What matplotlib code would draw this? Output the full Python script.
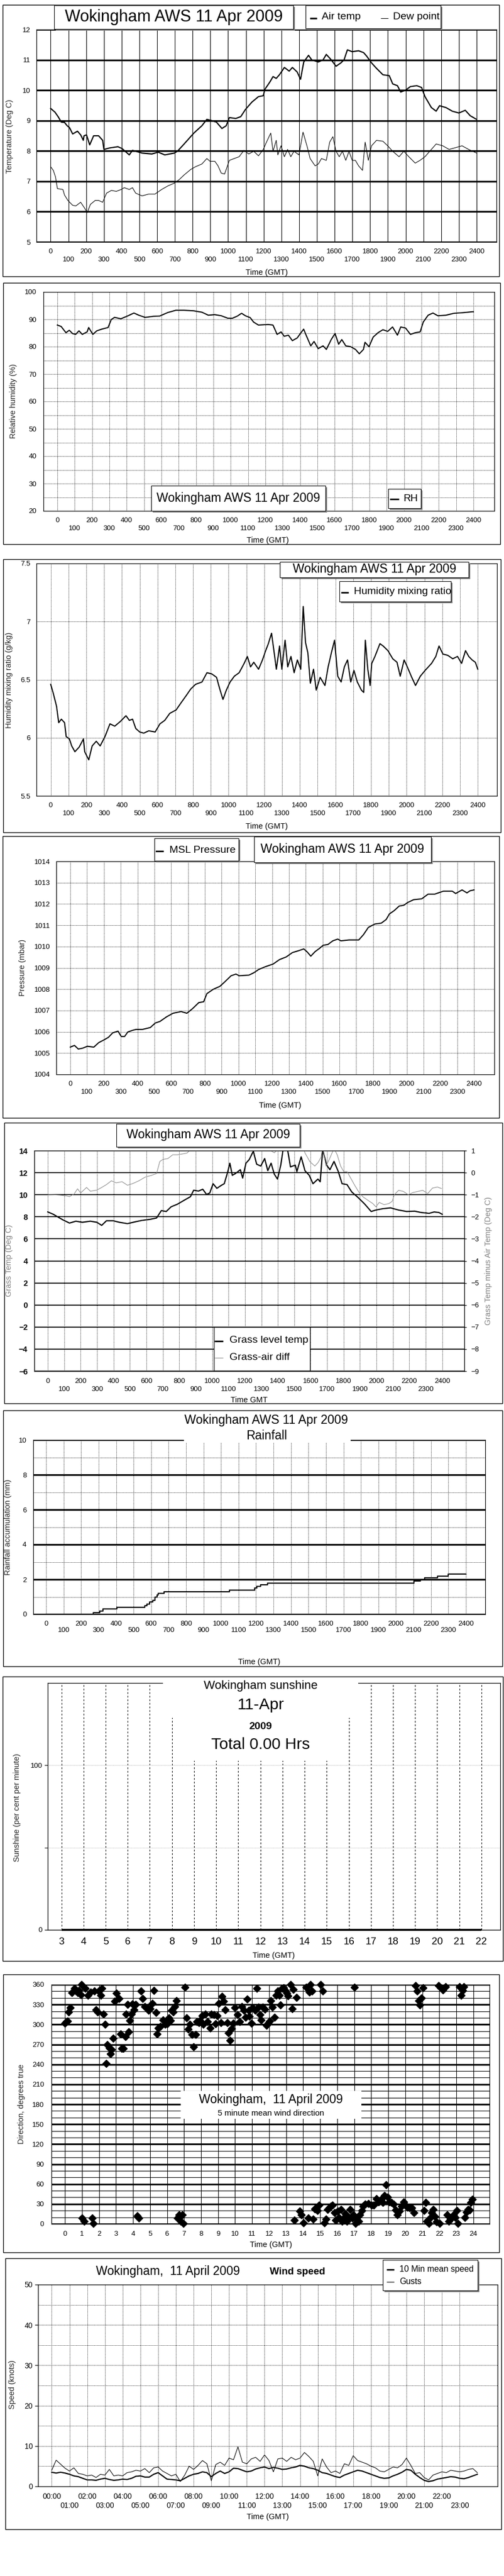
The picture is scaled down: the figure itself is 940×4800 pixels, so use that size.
import numpy as np
import matplotlib
matplotlib.use('Agg')
import matplotlib.pyplot as plt
from matplotlib.patches import Rectangle
from matplotlib.lines import Line2D

plt.rcParams['font.family'] = ['Liberation Sans', 'DejaVu Sans']
plt.rcParams['font.size'] = 9.5

# ---------------- data (time axis 0..2400 = hhmm-style, 100 per hour) ----------------
temp_t = [0, 24, 42, 60, 78, 93, 106, 124, 151, 169,
          184, 188, 202, 220, 242, 270, 293, 300, 333, 379,
          402, 443, 461, 515, 570, 606, 643, 697, 716, 752,
          807, 852, 880, 907, 934, 965, 989, 1007, 1043, 1071,
          1098, 1134, 1171, 1198, 1207, 1235, 1253, 1271, 1289, 1317,
          1344, 1362, 1389, 1408, 1426, 1453, 1471, 1508, 1535, 1553,
          1581, 1608, 1635, 1653, 1672, 1699, 1735, 1763, 1781, 1808,
          1836, 1872, 1908, 1927, 1954, 1972, 1999, 2027, 2063, 2090,
          2109, 2145, 2172, 2191, 2227, 2263, 2300, 2336, 2364, 2400]
air_temp = [9.40, 9.28, 9.13, 8.95, 8.94, 8.83, 8.77, 8.56, 8.65, 8.53,
            8.35, 8.50, 8.53, 8.20, 8.50, 8.50, 8.35, 8.05, 8.10, 8.14,
            8.08, 7.87, 8.02, 7.93, 7.90, 7.96, 7.87, 7.93, 8.00, 8.23,
            8.59, 8.83, 9.04, 9.00, 8.95, 8.74, 8.83, 9.10, 9.07, 9.13,
            9.37, 9.61, 9.79, 9.82, 10.03, 10.27, 10.45, 10.39, 10.51, 10.75,
            10.63, 10.75, 10.60, 10.36, 10.93, 11.15, 11.00, 10.93, 11.00, 11.18,
            11.00, 10.79, 10.90, 11.00, 11.33, 11.27, 11.30, 11.24, 11.12, 10.90,
            10.72, 10.51, 10.48, 10.21, 10.15, 9.94, 10.00, 10.12, 10.15, 10.09,
            9.79, 9.43, 9.31, 9.49, 9.43, 9.31, 9.25, 9.34, 9.16, 9.04]

dew_t = [0, 15, 27, 38, 69, 78, 97, 124, 142, 169,
         191, 206, 224, 251, 270, 293, 315, 342, 370, 397,
         415, 443, 461, 479, 515, 552, 588, 625, 661, 697,
         725, 752, 789, 816, 852, 880, 898, 925, 943, 961,
         980, 1007, 1034, 1062, 1089, 1116, 1144, 1171, 1198, 1216,
         1240, 1253, 1271, 1280, 1298, 1317, 1335, 1353, 1371, 1399,
         1422, 1444, 1462, 1490, 1508, 1526, 1553, 1572, 1590, 1608,
         1626, 1644, 1663, 1681, 1699, 1717, 1735, 1757, 1772, 1790,
         1808, 1836, 1872, 1899, 1927, 1963, 1990, 2018, 2054, 2081,
         2109, 2136, 2172, 2209, 2245, 2282, 2318, 2355, 2400]
dew_point = [7.48, 7.36, 7.15, 6.76, 6.73, 6.55, 6.37, 6.21, 6.19, 6.31,
             6.12, 5.97, 6.24, 6.37, 6.37, 6.31, 6.61, 6.70, 6.67, 6.73,
             6.79, 6.73, 6.79, 6.61, 6.52, 6.58, 6.58, 6.73, 6.85, 6.94,
             7.06, 7.21, 7.39, 7.48, 7.57, 7.75, 7.66, 7.66, 7.51, 7.27,
             7.24, 7.69, 7.75, 7.81, 8.02, 7.90, 7.99, 7.84, 8.05, 8.29,
             8.59, 7.99, 8.35, 7.87, 8.17, 7.81, 8.05, 7.81, 7.99, 7.87,
             8.62, 8.17, 7.75, 7.51, 7.57, 7.75, 7.69, 8.29, 8.47, 7.99,
             7.81, 7.99, 7.69, 7.99, 7.69, 7.69, 7.51, 7.36, 8.29, 7.69,
             8.17, 8.35, 8.32, 8.17, 7.99, 7.81, 7.99, 7.81, 7.60, 7.69,
             7.81, 7.99, 8.23, 8.17, 8.05, 8.11, 8.17, 8.05, 7.93]

rh_t = [0, 22, 50, 69, 88, 106, 125, 144, 172, 181,
        205, 228, 256, 293, 311, 330, 367, 405, 442, 470,
        507, 554, 591, 638, 684, 731, 787, 834, 871, 908,
        946, 983, 1011, 1039, 1063, 1085, 1113, 1132, 1160, 1188,
        1216, 1244, 1268, 1291, 1309, 1333, 1356, 1384, 1402, 1421,
        1440, 1462, 1481, 1505, 1533, 1552, 1580, 1602, 1623, 1641,
        1664, 1692, 1720, 1742, 1766, 1775, 1798, 1822, 1850, 1878,
        1906, 1934, 1962, 1981, 2009, 2037, 2065, 2093, 2111, 2139,
        2167, 2195, 2242, 2288, 2335, 2400]
rel_hum = [87.9, 87.4, 85.1, 86.0, 84.8, 84.5, 85.8, 84.5, 85.4, 87.0,
           84.5, 85.8, 86.4, 87.0, 89.9, 90.7, 90.2, 91.2, 92.3, 91.5,
           90.7, 91.1, 91.2, 92.5, 93.3, 93.3, 93.1, 92.6, 91.5, 91.7,
           91.3, 90.4, 90.4, 91.2, 92.2, 91.3, 90.6, 89.0, 87.9, 88.0,
           88.1, 87.9, 84.5, 85.4, 83.8, 84.2, 82.2, 83.2, 84.8, 86.4,
           83.5, 80.3, 81.9, 79.3, 80.3, 79.0, 82.6, 84.8, 80.9, 82.6,
           80.3, 80.0, 79.0, 77.4, 79.0, 81.6, 80.0, 83.5, 85.1, 86.2,
           85.6, 87.2, 84.2, 87.2, 86.8, 84.5, 85.1, 85.4, 89.0, 91.5,
           92.3, 91.3, 91.5, 92.2, 92.4, 92.8]

mr_t = [0, 15, 33, 45, 60, 78, 87, 105, 118, 136,
        160, 184, 191, 214, 233, 256, 278, 305, 333, 360,
        391, 423, 442, 460, 478, 500, 523, 551, 587, 614,
        641, 669, 705, 732, 760, 787, 814, 850, 878, 905,
        932, 950, 968, 987, 1008, 1032, 1059, 1087, 1105, 1123,
        1141, 1168, 1190, 1208, 1223, 1241, 1256, 1268, 1286, 1299,
        1317, 1332, 1350, 1368, 1386, 1405, 1419, 1432, 1445, 1459,
        1477, 1492, 1514, 1541, 1559, 1577, 1595, 1613, 1632, 1650,
        1668, 1686, 1704, 1723, 1746, 1759, 1768, 1782, 1795, 1804,
        1822, 1850, 1868, 1895, 1922, 1946, 1964, 1986, 2004, 2026,
        2050, 2077, 2104, 2140, 2164, 2182, 2204, 2231, 2259, 2286,
        2309, 2331, 2349, 2368, 2386, 2400]
mix_ratio = [6.46, 6.38, 6.27, 6.13, 6.16, 6.13, 6.01, 5.99, 5.93, 5.88,
             5.92, 5.99, 5.88, 5.81, 5.93, 5.97, 5.93, 6.01, 6.12, 6.10,
             6.14, 6.19, 6.15, 6.16, 6.08, 6.05, 6.04, 6.06, 6.05, 6.12,
             6.15, 6.21, 6.24, 6.30, 6.36, 6.42, 6.46, 6.48, 6.56, 6.55,
             6.52, 6.42, 6.33, 6.41, 6.48, 6.53, 6.56, 6.64, 6.70, 6.61,
             6.65, 6.59, 6.67, 6.75, 6.81, 6.90, 6.73, 6.59, 6.79, 6.59,
             6.84, 6.61, 6.70, 6.56, 6.67, 6.59, 7.13, 6.82, 6.73, 6.47,
             6.59, 6.41, 6.52, 6.45, 6.61, 6.73, 6.84, 6.53, 6.48, 6.61,
             6.67, 6.48, 6.58, 6.48, 6.41, 6.39, 6.84, 6.59, 6.45, 6.64,
             6.70, 6.81, 6.79, 6.75, 6.68, 6.65, 6.53, 6.67, 6.61, 6.53,
             6.45, 6.53, 6.58, 6.64, 6.70, 6.79, 6.72, 6.71, 6.68, 6.70,
             6.64, 6.75, 6.70, 6.67, 6.65, 6.59]

pr_t = [0, 25, 48, 73, 102, 140, 169, 198, 227, 252,
        284, 303, 323, 342, 371, 390, 428, 476, 505, 534,
        572, 611, 659, 693, 726, 764, 793, 812, 851, 889,
        918, 956, 985, 1004, 1062, 1091, 1119, 1158, 1206, 1244,
        1283, 1321, 1359, 1388, 1407, 1430, 1455, 1484, 1503, 1532,
        1561, 1590, 1609, 1657, 1715, 1743, 1772, 1811, 1849, 1878,
        1897, 1926, 1955, 1983, 2006, 2041, 2089, 2127, 2166, 2218,
        2271, 2291, 2329, 2358, 2377, 2400]
msl_pres = [1005.28, 1005.36, 1005.19, 1005.23, 1005.32, 1005.28, 1005.49, 1005.61, 1005.74, 1005.95,
            1006.03, 1005.78, 1005.78, 1005.99, 1006.07, 1006.11, 1006.11, 1006.20, 1006.41, 1006.49,
            1006.70, 1006.87, 1006.95, 1006.87, 1007.08, 1007.37, 1007.41, 1007.79, 1008.00, 1008.13,
            1008.34, 1008.63, 1008.71, 1008.63, 1008.66, 1008.77, 1008.92, 1009.05, 1009.18, 1009.39,
            1009.51, 1009.72, 1009.81, 1009.89, 1009.76, 1009.55, 1009.76, 1009.93, 1010.06, 1010.10,
            1010.27, 1010.35, 1010.27, 1010.31, 1010.31, 1010.56, 1010.90, 1011.06, 1011.10, 1011.27,
            1011.53, 1011.69, 1011.90, 1011.94, 1012.07, 1012.20, 1012.24, 1012.46, 1012.46, 1012.60,
            1012.60, 1012.49, 1012.66, 1012.52, 1012.62, 1012.66]

gr_t = [0, 33, 63, 92, 132, 171, 210, 259, 299, 328,
        357, 397, 436, 485, 534, 573, 623, 662, 691, 721,
        750, 790, 829, 868, 888, 917, 943, 966, 986, 1006,
        1029, 1055, 1074, 1094, 1108, 1123, 1143, 1172, 1186, 1206,
        1226, 1251, 1271, 1296, 1320, 1339, 1359, 1379, 1398, 1418,
        1434, 1457, 1477, 1506, 1516, 1542, 1565, 1591, 1614, 1644,
        1658, 1673, 1697, 1717, 1742, 1768, 1791, 1821, 1850, 1889,
        1929, 1968, 1997, 2037, 2086, 2135, 2184, 2233, 2272, 2321,
        2351, 2380, 2400]
grass_temp = [8.44, 8.23, 7.97, 7.72, 7.43, 7.60, 7.50, 7.60, 7.50, 7.22,
              7.64, 7.64, 7.50, 7.38, 7.55, 7.67, 7.77, 7.89, 8.56, 8.48,
              8.90, 9.15, 9.49, 9.82, 10.41, 10.33, 10.50, 10.03, 10.16, 11.00,
              10.58, 10.84, 11.00, 12.01, 12.86, 11.76, 11.93, 12.27, 11.51, 12.86,
              13.19, 13.95, 12.77, 12.60, 13.28, 12.18, 12.86, 11.85, 11.42, 12.69,
              14.30, 14.30, 12.52, 12.69, 12.10, 13.44, 12.18, 11.76, 11.00, 11.42,
              11.17, 14.10, 12.69, 12.27, 13.02, 12.10, 11.00, 10.92, 10.25, 9.74,
              9.15, 8.48, 8.61, 8.73, 8.81, 8.61, 8.48, 8.51, 8.39, 8.31,
              8.44, 8.39, 8.23]

df_t = [0, 33, 73, 112, 132, 161, 181, 200, 236, 259,
        299, 328, 357, 387, 416, 452, 485, 515, 554, 593,
        632, 662, 682, 701, 731, 760, 790, 819, 848, 868,
        927, 1084, 1241, 1379, 1398, 1438, 1546, 1565, 1595, 1625,
        1644, 1663, 1673, 1693, 1713, 1742, 1762, 1782, 1801, 1821,
        1840, 1870, 1899, 1919, 1948, 1978, 1997, 2017, 2047, 2076,
        2096, 2109, 2135, 2164, 2194, 2223, 2253, 2282, 2312, 2341,
        2371, 2396]
grass_air_diff = [-0.99, -1.00, -1.02, -1.05, -1.09, -0.96, -0.73, -0.92, -0.67, -0.84,
                  -0.79, -0.67, -0.54, -0.37, -0.46, -0.41, -0.57, -0.50, -0.37, -0.20,
                  -0.12, -0.04, 0.51, 0.60, 0.64, 0.81, 0.81, 0.85, 0.89, 1.05,
                  1.40, 1.60, 1.50, 0.90, 1.05, 1.40, 1.30, 0.90, 0.50, 0.30,
                  0.45, 0.70, 1.20, 0.30, 0.60, 1.10, 0.80, 0.30, 0.05, 0.05,
                  -0.20, -0.60, -0.95, -1.10, -1.25, -1.40, -1.55, -1.35, -1.45, -1.40,
                  -1.30, -1.00, -0.80, -0.85, -1.00, -0.90, -0.85, -0.80, -0.95, -0.70,
                  -0.65, -0.72]

rain_t = [0, 268, 305, 324, 405, 564, 577, 590, 609, 623, 635, 642, 673,
          1049, 1192, 1206, 1225, 1267, 2103, 2140, 2165, 2237, 2298, 2400]
rain_mm = [0, 0.1, 0.2, 0.3, 0.4, 0.5, 0.6, 0.7, 0.8, 1.0, 1.1, 1.2, 1.3,
           1.4, 1.5, 1.6, 1.7, 1.8, 1.9, 2.0, 2.1, 2.2, 2.3, 2.3]

sun_hour = [3, 22]
sun_pct = [0, 0]

wd_hour = [0.00, 0.08, 0.17, 0.23, 0.32, 0.40, 0.55, 0.65, 0.74, 0.83,
           0.93, 0.99, 1.02, 1.12, 1.21, 1.35, 1.50, 1.59, 1.67, 1.73,
           1.84, 1.92, 1.97, 2.11, 2.16, 2.26, 2.35, 2.41, 2.49, 2.60,
           2.68, 2.74, 2.83, 2.92, 3.02, 3.17, 3.26, 3.33, 3.43, 3.55,
           3.59, 3.68, 3.74, 3.81, 3.91, 3.97, 4.06, 4.16, 4.25, 4.35,
           4.48, 4.57, 4.69, 4.82, 4.91, 5.01, 5.14, 5.24, 5.35, 5.41,
           5.48, 5.62, 5.77, 5.90, 6.02, 6.11, 6.20, 6.28, 6.37, 6.45,
           6.55, 6.62, 6.72, 6.81, 6.91, 6.96, 7.06, 7.15, 7.23, 7.34,
           7.48, 7.57, 7.67, 7.76, 7.86, 7.95, 8.05, 8.14, 8.24, 8.37,
           8.52, 8.61, 8.75, 8.84, 8.94, 9.03, 9.15, 9.24, 9.33, 9.43,
           9.53, 9.62, 9.70, 9.81, 9.89, 9.98, 10.13, 10.27, 10.38, 10.51,
           10.61, 10.70, 10.80, 10.85, 10.95, 11.04, 11.18, 11.27, 11.37, 11.46,
           11.52, 11.61, 11.75, 11.84, 11.94, 12.03, 12.09, 12.18, 12.31, 12.41,
           12.50, 12.60, 12.66, 12.75, 12.85, 12.94, 13.04, 13.11, 13.26, 13.36,
           13.42, 13.49, 13.61, 13.80, 13.89, 14.02, 14.17, 14.31, 14.36, 14.44,
           14.52, 14.59, 14.69, 14.84, 14.93, 15.03, 15.16, 15.26, 15.35, 15.45,
           15.54, 15.64, 15.73, 15.83, 15.92, 16.02, 16.11, 16.21, 16.30, 16.39,
           16.49, 16.58, 16.68, 16.77, 16.87, 16.96, 17.02, 17.06, 17.15, 17.25,
           17.34, 17.44, 17.53, 17.63, 17.82, 18.01, 18.16, 18.29, 18.42, 18.58,
           18.67, 18.77, 18.86, 18.96, 19.05, 19.18, 19.30, 19.43, 19.53, 19.66,
           19.77, 19.91, 20.00, 20.13, 20.25, 20.38, 20.51, 20.61, 20.70, 20.80,
           20.85, 20.95, 21.04, 21.10, 21.20, 21.27, 21.38, 21.46, 21.56, 21.65,
           21.75, 21.84, 21.95, 22.03, 22.09, 22.22, 22.37, 22.47, 22.56, 22.66,
           22.75, 22.85, 22.94, 23.04, 23.09, 23.17, 23.28, 23.36, 23.45, 23.51,
           23.61, 23.70, 23.80, 23.85, 23.95]
wd_deg = [302, 304, 305, 319, 325, 348, 354, 350, 348, 351,
          345, 360, 9, 4, 354, 344, 349, 9, 1, 350,
          322, 319, 350, 344, 354, 316, 300, 241, 270, 265,
          256, 262, 279, 335, 347, 339, 286, 264, 264, 282,
          316, 330, 289, 306, 316, 331, 322, 330, 12, 9,
          350, 339, 327, 325, 321, 324, 332, 351, 318, 286,
          295, 297, 307, 300, 301, 310, 306, 321, 319, 327,
          336, 9, 14, 4, 14, 1, 356, 310, 293, 300,
          285, 266, 285, 304, 303, 306, 313, 300, 316, 304,
          295, 316, 315, 301, 313, 332, 303, 342, 335, 322,
          303, 287, 276, 294, 302, 325, 315, 304, 327, 321,
          311, 338, 321, 312, 302, 325, 321, 354, 326, 315,
          307, 326, 323, 299, 302, 305, 336, 326, 311, 344,
          350, 344, 329, 354, 355, 351, 347, 343, 360, 324,
          353, 6, 341, 19, 14, 2, 356, 9, 349, 360,
          350, 7, 23, 20, 28, 360, 350, 2, 7, 22,
          24, 27, 28, 17, 6, 19, 10, 22, 4, 9,
          15, 4, 10, 22, 9, 14, 356, 1, 7, 4,
          14, 20, 27, 30, 31, 28, 28, 38, 33, 37,
          32, 43, 59, 40, 33, 32, 30, 21, 14, 19,
          27, 33, 28, 25, 24, 24, 17, 358, 350, 336,
          329, 340, 355, 20, 32, 4, 1, 9, 17, 22,
          11, 3, 358, 1, 355, 352, 357, 14, 4, 7,
          10, 14, 10, 20, 1, 357, 344, 351, 357, 10,
          18, 22, 21, 32, 37]

ws_hour = np.arange(97) * 0.25
ws_mean = [3.5, 3.3, 3.5, 3.3, 3.0, 2.6, 2.4, 2.0, 1.6, 1.6,
           1.5, 1.8, 2.0, 1.7, 1.5, 1.6, 1.8, 1.7, 2.0, 2.5,
           2.6, 2.3, 2.3, 3.0, 3.4, 2.6, 1.8, 1.7, 1.6, 1.4,
           2.0, 2.6, 3.0, 3.2, 3.6, 3.4, 2.4, 3.2, 3.8, 3.2,
           3.6, 4.5, 4.4, 4.0, 3.6, 3.8, 4.3, 4.6, 4.8, 4.4,
           4.7, 4.5, 4.2, 4.3, 4.6, 4.8, 5.2, 5.0, 4.6, 4.4,
           4.0, 3.4, 3.2, 2.8, 2.4, 2.2, 2.8, 3.2, 3.6, 4.0,
           3.8, 3.4, 3.0, 2.6, 2.2, 2.0, 2.1, 2.6, 3.0, 3.5,
           4.2, 4.0, 3.0, 2.2, 1.5, 1.2, 1.4, 1.8, 2.0, 2.2,
           2.4, 2.3, 2.0, 1.9, 2.2, 2.6, 3.0]
ws_gust = [4.0, 6.5, 5.5, 4.5, 3.8, 4.6, 3.2, 3.0, 2.6, 2.8,
           2.2, 3.0, 2.8, 4.2, 2.6, 2.8, 2.6, 3.4, 3.6, 4.0,
           3.8, 4.4, 3.4, 4.6, 4.8, 3.8, 3.2, 2.6, 3.0, 1.2,
           2.8, 5.0, 4.2, 5.2, 6.4, 5.6, 1.4, 5.4, 6.0, 5.2,
           7.0, 6.6, 9.8, 6.0, 5.6, 6.8, 7.2, 6.2, 7.8, 6.4,
           3.6, 6.8, 7.0, 6.2, 7.2, 6.6, 7.0, 8.4, 7.4, 6.2,
           2.6, 6.8, 4.8, 3.4, 3.8, 3.2, 5.6, 5.2, 7.6, 6.4,
           6.0, 5.6, 5.0, 4.6, 3.8, 3.6, 4.2, 4.8, 4.6, 5.4,
           7.0, 5.2, 3.2, 3.4, 2.2, 1.6, 2.8, 3.2, 3.6, 3.4,
           4.0, 3.8, 3.6, 3.8, 4.2, 4.4, 3.4]

TITLE = 'Wokingham AWS 11 Apr 2009'

# ---------------- page helpers (pixel coordinates, origin top-left) ----------------
W, H = 940, 4800
fig = plt.figure(figsize=(W / 100, H / 100), dpi=100)


def fx(x):
    return x / W


def fy(y):
    return 1 - y / H


def axes_px(box):
    l, t, r, b = box
    return fig.add_axes([fx(l), fy(b), (r - l) / W, (b - t) / H])


def rect_px(l, t, r, b, fc='white', ec='black', lw=0.8, z=5):
    fig.add_artist(Rectangle((fx(l), fy(b)), (r - l) / W, (b - t) / H,
                             transform=fig.transFigure, fc=fc, ec=ec, lw=lw, zorder=z))


def box_px(l, t, r, b, shadow=True):
    if shadow:
        rect_px(l + 3, t + 3, r + 3, b + 3, fc='#808080', ec='none')
    rect_px(l, t, r, b)


def text_px(x, y, s, size, ha='center', **kw):
    fig.text(fx(x), fy(y), s, ha=ha, va='center', fontsize=size, zorder=6, **kw)


def line_px(x0, x1, y, lw, color='black'):
    fig.add_artist(Line2D([fx(x0), fx(x1)], [fy(y), fy(y)], transform=fig.transFigure,
                          lw=lw, color=color, zorder=6, solid_capstyle='butt'))


def frame_px(l, t, r, b):
    rect_px(l, t, r, b, fc='none', ec='black', lw=1.0, z=0)


def style(ax):
    for s in ax.spines.values():
        s.set_linewidth(0.9)
    ax.tick_params(axis='both', length=0, labelsize=9.5)
    ax.set_axisbelow(True)


def labels(ax, box, xlab, xpos, ylab, ypos, color='#222222', size=10.5):
    l, t, r, b = box
    ax.set_xlabel(xlab, fontsize=size)
    ax.xaxis.set_label_coords((xpos[0] - l) / (r - l), (b - xpos[1]) / (b - t))
    ax.xaxis.label.set_va('center')
    ax.set_ylabel(ylab, fontsize=size, color=color)
    ax.yaxis.set_label_coords((ypos[0] - l) / (r - l), (b - ypos[1]) / (b - t))
    ax.yaxis.label.set_va('center')


def hhmm_axis(ax, pad, spacing=1.3):
    ticks = list(range(0, 2401, 100))
    labs = [str(v) if (v // 100) % 2 == 0 else '\n' + str(v) for v in ticks]
    ax.set_xticks(ticks)
    ax.set_xticklabels(labs, linespacing=spacing)
    ax.tick_params(axis='x', pad=pad)


DOT = (0, (1, 1.5))

# ---------------- 1: temperature ----------------
frame_px(5, 9, 931, 515)
b1 = (68, 55, 926, 451)
ax = axes_px(b1)
style(ax)
ax.plot(temp_t, air_temp, color='black', lw=1.6)
ax.plot(dew_t, dew_point, color='black', lw=0.8)
ax.set_xlim(-80, 2512)
ax.set_ylim(5, 12)
ax.set_yticks(range(5, 13))
hhmm_axis(ax, 9)
ax.tick_params(axis='y', pad=8)
ax.grid(axis='x', color='black', lw=0.8)
ax.grid(axis='y', color='black', lw=2.3)
labels(ax, b1, 'Time (GMT)', (497, 508), 'Temperature (Deg C)', (18, 254))
box_px(101, 10, 547, 54)
text_px(324, 32, TITLE, 22)
box_px(570, 10, 822, 53)
line_px(578, 591, 34, 2.2)
text_px(600, 32, 'Air temp', 14, ha='left')
line_px(710, 724, 34, 0.8)
text_px(733, 32, 'Dew point', 14, ha='left')

# ---------------- 2: relative humidity ----------------
frame_px(6, 527, 933, 1014)
b2 = (81, 544, 922, 952)
ax = axes_px(b2)
style(ax)
ax.plot(rh_t, rel_hum, color='black', lw=1.5)
ax.set_xlim(-80, 2521)
ax.set_ylim(20, 100)
ax.set_yticks(range(20, 101, 10))
ax.set_yticks(range(25, 100, 10), minor=True)
ax.tick_params(axis='y', which='both', length=0, pad=9)
hhmm_axis(ax, 8.5)
ax.grid(which='both', color='black', lw=0.7, ls=DOT)
labels(ax, b2, 'Time (GMT)', (499, 1007), 'Relative humidity (%)', (25, 747))
box_px(282, 905, 607, 952)
text_px(444, 928, TITLE, 16.5)
box_px(724, 911, 785, 947)
line_px(727, 744, 930, 2.0)
text_px(752, 929, 'RH', 13.5, ha='left')

# ---------------- 3: mixing ratio ----------------
frame_px(6, 1042, 934, 1551)
b3 = (68, 1050, 927, 1483)
ax = axes_px(b3)
style(ax)
ax.plot(mr_t, mix_ratio, color='black', lw=1.5)
ax.set_xlim(-80, 2508)
ax.set_ylim(5.5, 7.5)
ax.set_yticks([5.5, 6, 6.5, 7, 7.5])
ax.set_yticklabels(['5.5', '6', '6.5', '7', '7.5'])
ax.tick_params(axis='y', pad=8)
hhmm_axis(ax, 9)
ax.grid(color='black', lw=0.7, ls=DOT)
labels(ax, b3, 'Time (GMT)', (497, 1540), 'Humidity mixing ratio (g/kg)', (17, 1267))
box_px(522, 1047, 874, 1076)
text_px(698, 1061, TITLE, 16.5)
box_px(633, 1083, 841, 1121)
line_px(636, 650, 1104, 2.0)
text_px(660, 1103, 'Humidity mixing ratio', 14, ha='left')

# ---------------- 4: pressure ----------------
frame_px(5, 1558, 931, 2083)
b4 = (105, 1605, 922, 2002)
ax = axes_px(b4)
style(ax)
ax.plot(pr_t, msl_pres, color='black', lw=1.5)
ax.set_xlim(-83, 2521)
ax.set_ylim(1004, 1014)
ax.set_yticks(range(1004, 1015))
ax.tick_params(axis='y', pad=8)
hhmm_axis(ax, 8.5)
ax.grid(color='black', lw=0.7, ls=DOT)
labels(ax, b4, 'Time (GMT)', (522, 2060), 'Pressure (mbar)', (42, 1803))
box_px(288, 1562, 445, 1604)
line_px(290, 305, 1586, 2.0)
text_px(316, 1584, 'MSL Pressure', 14, ha='left')
box_px(474, 1559, 804, 1607)
text_px(639, 1583, TITLE, 16.5)

# ---------------- 5: grass temperature ----------------
frame_px(8, 2092, 937, 2615)
b5 = (64, 2144, 866, 2555)
ax = axes_px(b5)
style(ax)
ax.plot(gr_t, grass_temp, color='black', lw=1.6)
ax.set_xlim(-82, 2535)
ax.set_ylim(-6, 14)
ax.set_yticks(range(-6, 15, 2))
ax.tick_params(axis='y', pad=9)
for t in ax.get_yticklabels():
    t.set_fontweight('bold')
    t.set_fontsize(10.5)
hhmm_axis(ax, 9.5)
ax.grid(axis='x', color='black', lw=0.7, ls=DOT)
ax.grid(axis='y', color='black', lw=1.3)
labels(ax, b5, 'Time GMT', (464, 2609), 'Grass Temp (Deg C)', (17, 2349), color='#808080')
ax2 = ax.twinx()
ax2.plot(df_t, grass_air_diff, color='#8c8c8c', lw=0.8)
ax2.set_ylim(-9, 1)
ax2.set_yticks(range(-9, 2))
ax2.tick_params(axis='y', length=3, pad=6, labelsize=9.5)
ax2.set_ylabel('Grass Temp minus Air Temp (Deg C)', fontsize=10.5, color='#808080')
ax2.yaxis.set_label_coords((911 - 64) / (866 - 64), (2555 - 2349) / (2555 - 2144))
ax2.yaxis.label.set_va('center')
box_px(217, 2094, 559, 2137)
text_px(388, 2114, TITLE, 16.5)
box_px(399, 2473, 578, 2554, shadow=False)
line_px(400, 416, 2499, 2.0)
text_px(428, 2498, 'Grass level temp', 14, ha='left')
line_px(400, 416, 2530, 0.8, color='#8c8c8c')
text_px(428, 2529, 'Grass-air diff', 14, ha='left')

# ---------------- 6: rainfall ----------------
frame_px(6, 2628, 937, 3105)
b6 = (62, 2683, 905, 3008)
ax = axes_px(b6)
style(ax)
ax.plot(rain_t, rain_mm, color='black', lw=1.6, drawstyle='steps-post')
ax.set_xlim(-74, 2511)
ax.set_ylim(0, 10)
ax.set_yticks(range(0, 11, 2))
ax.set_yticks(range(1, 10, 2), minor=True)
ax.tick_params(axis='y', which='both', length=0, pad=9)
hhmm_axis(ax, 8.5, spacing=1.05)
ax.grid(axis='x', color='black', lw=0.7, ls=DOT)
ax.grid(axis='y', which='major', color='black', lw=2.3)
ax.grid(axis='y', which='minor', color='black', lw=0.7, ls=DOT)
labels(ax, b6, 'Time (GMT)', (483, 3097), 'Rainfall accumulation (mm)', (15, 2846))
rect_px(343, 2679, 654, 2688, ec='none')
text_px(497, 2646, TITLE, 16.5)
text_px(497, 2675, 'Rainfall', 16.5)

# ---------------- 7: sunshine ----------------
frame_px(5, 3124, 938, 3654)
b7 = (89, 3136, 933, 3596)
ax = axes_px(b7)
style(ax)
ax.plot(sun_hour, sun_pct, color='black', lw=2.6, clip_on=False, solid_capstyle='butt')
ax.set_xlim(2.38, 22.85)
ax.set_ylim(0, 150)
ax.set_xticks(range(3, 23))
ax.tick_params(axis='x', labelsize=13.5, pad=10)
ax.set_yticks([0, 50, 100])
ax.set_yticklabels(['0', '', '100'])
ax.tick_params(axis='y', length=4, pad=3)
ax.grid(axis='x', color='black', lw=0.8, ls=(0, (3, 3)))
ax.grid(axis='y', color='#a0a0a0', lw=0.7, ls=DOT)
labels(ax, b7, 'Time (GMT)', (510, 3644), 'Sunshine (per cent per minute)', (32, 3368))
rect_px(304, 3130, 668, 3201, ec='none')
rect_px(328, 3201, 648, 3281, ec='none')
text_px(486, 3141, 'Wokingham sunshine', 16)
text_px(486, 3177, '11-Apr', 21.5)
text_px(486, 3217, '2009', 14, fontweight='bold')
text_px(486, 3251, 'Total 0.00 Hrs', 21.5)

# ---------------- 8: wind direction ----------------
frame_px(6, 3679, 931, 4197)
b8 = (96, 3698, 913, 4144)
ax = axes_px(b8)
style(ax)
ax.plot(wd_hour, wd_deg, ls='none', marker='D', ms=7.5, color='black', clip_on=False)
ax.set_xlim(-0.79, 24.95)
ax.set_ylim(0, 360)
ax.set_xticks(range(0, 25))
ax.set_yticks(range(0, 361, 30))
ax.set_yticks(range(10, 360, 10), minor=True)
ax.tick_params(axis='both', which='both', length=0)
ax.tick_params(axis='x', pad=9)
ax.tick_params(axis='y', pad=10)
ax.grid(axis='x', color='black', lw=0.8)
ax.grid(axis='y', which='major', color='black', lw=2.3)
ax.grid(axis='y', which='minor', color='black', lw=0.8)
labels(ax, b8, 'Time (GMT)', (505, 4183), 'Direction, degrees true', (40, 3921))
rect_px(337, 3896, 674, 3948, ec='none')
text_px(505, 3912, 'Wokingham,  11 April 2009', 16.3)
text_px(505, 3938, '5 minute mean wind direction', 11)

# ---------------- 9: wind speed ----------------
frame_px(10, 4208, 935, 4713)
b9 = (71, 4257, 928, 4633)
ax = axes_px(b9)
style(ax)
ax.plot(ws_hour, ws_gust, color='black', lw=0.8)
ax.plot(ws_hour, ws_mean, color='black', lw=1.6)
ax.set_xlim(-0.77, 25.14)
ax.set_ylim(0, 50)
ax.set_xticks(range(0, 24))
ax.set_xticklabels(['%02d:00' % h if h % 2 == 0 else '\n%02d:00' % h for h in range(24)],
                   linespacing=1.3, fontsize=10)
ax.tick_params(axis='x', pad=8.5)
ax.set_yticks(range(0, 51, 10))
ax.set_yticks(range(5, 50, 10), minor=True)
ax.tick_params(axis='y', which='major', length=4, pad=3, labelsize=10)
ax.tick_params(axis='y', which='minor', length=0)
ax.grid(which='both', color='black', lw=0.7, ls=DOT)
labels(ax, b9, 'Time (GMT)', (499, 4690), 'Speed (knots)', (23, 4443))
text_px(313, 4233, 'Wokingham,  11 April 2009', 16.3)
text_px(555, 4233, 'Wind speed', 13.3, fontweight='bold')
box_px(714, 4211, 891, 4268)
line_px(721, 735, 4229, 2.0)
text_px(745, 4228, '10 Min mean speed', 11.3, ha='left')
line_px(721, 735, 4252, 0.8)
text_px(745, 4251, 'Gusts', 11.3, ha='left')

fig.savefig('out.png', dpi=100)
